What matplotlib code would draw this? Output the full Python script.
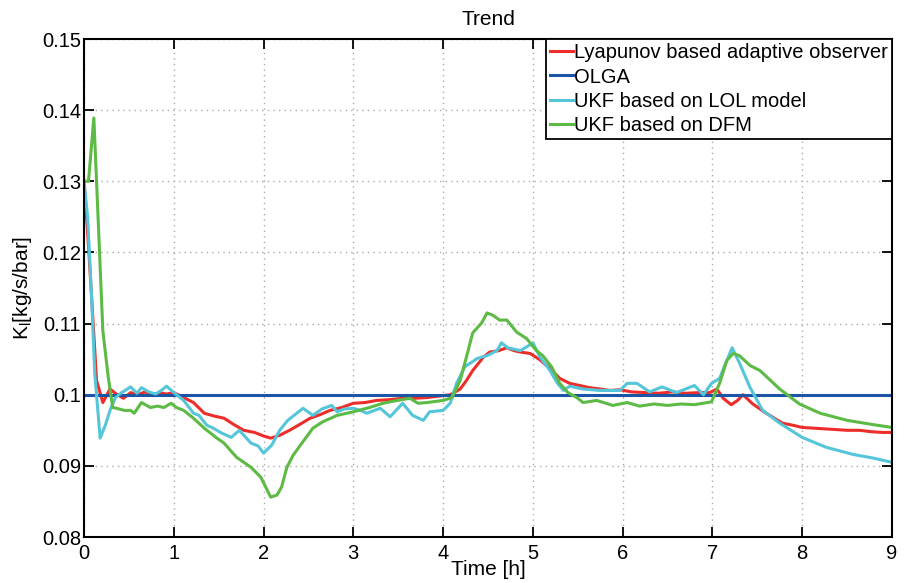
import numpy as np
import matplotlib
matplotlib.use("Agg")
import matplotlib.pyplot as plt

plt.rcParams['font.family'] = ['Liberation Sans', 'DejaVu Sans']
plt.rcParams['mathtext.fontset'] = 'custom'
plt.rcParams['mathtext.rm'] = 'Liberation Sans'
plt.rcParams['mathtext.it'] = 'Liberation Sans'

# Lyapunov based adaptive observer
t_lyap = [0.0, 0.05, 0.1, 0.14, 0.21, 0.29, 0.36, 0.44, 0.52, 0.6, 0.68, 0.76, 0.84, 0.92,
          1.0, 1.08, 1.22, 1.34, 1.45, 1.56, 1.67, 1.78, 1.9, 2.0, 2.08, 2.18, 2.29, 2.4,
          2.52, 2.63, 2.74, 2.87, 3.0, 3.13, 3.26, 3.4, 3.55, 3.68, 3.82, 3.95, 4.08, 4.19,
          4.26, 4.33, 4.45, 4.52, 4.62, 4.71, 4.79, 4.86, 4.97, 5.08, 5.19, 5.3, 5.41, 5.52,
          5.63, 5.75, 5.86, 5.97, 6.1, 6.25, 6.4, 6.55, 6.7, 6.85, 6.97, 7.05, 7.12, 7.21,
          7.28, 7.34, 7.45, 7.6, 7.78, 7.9, 8.0, 8.13, 8.25, 8.38, 8.5, 8.64, 8.77, 8.9, 9.0]
y_lyap = [0.1300, 0.1210, 0.1105, 0.1020, 0.0989, 0.1008, 0.1001, 0.0995, 0.1003, 0.1000,
          0.1004, 0.0999, 0.1003, 0.1001, 0.1003, 0.0998, 0.0989, 0.0974, 0.0970, 0.0967,
          0.0958, 0.0950, 0.0947, 0.0942, 0.0939, 0.0943, 0.0950, 0.0958, 0.0967, 0.0972,
          0.0978, 0.0982, 0.0988, 0.0989, 0.0992, 0.0993, 0.0995, 0.0995, 0.0996, 0.0998,
          0.1000, 0.1008, 0.1020, 0.1034, 0.1053, 0.1060, 0.1062, 0.1066, 0.1062, 0.1060,
          0.1058, 0.1049, 0.1037, 0.1023, 0.1016, 0.1013, 0.1010, 0.1008, 0.1006, 0.1007,
          0.1004, 0.1003, 0.1002, 0.1004, 0.1002, 0.1003, 0.1003, 0.1008, 0.0995, 0.0986,
          0.0992, 0.1000, 0.0987, 0.0974, 0.0960, 0.0957, 0.0954, 0.0953, 0.0952, 0.0951,
          0.0950, 0.0950, 0.0948, 0.0947, 0.0947]

# OLGA reference
t_olga = [0.0, 9.0]
y_olga = [0.1, 0.1]

# UKF based on LOL model
t_lol = [0.0, 0.04, 0.08, 0.12, 0.18, 0.24, 0.29, 0.35, 0.42, 0.52, 0.59, 0.64, 0.72, 0.8,
         0.86, 0.92, 1.02, 1.11, 1.22, 1.28, 1.37, 1.44, 1.52, 1.64, 1.73, 1.86, 1.94, 2.0,
         2.09, 2.18, 2.27, 2.37, 2.44, 2.55, 2.65, 2.76, 2.82, 2.9, 3.0, 3.08, 3.15, 3.3,
         3.41, 3.55, 3.66, 3.78, 3.85, 4.0, 4.08, 4.15, 4.24, 4.38, 4.49, 4.6, 4.65, 4.72,
         4.86, 4.94, 5.0, 5.08, 5.19, 5.27, 5.34, 5.41, 5.56, 5.75, 5.97, 6.05, 6.16, 6.3,
         6.44, 6.6, 6.8, 6.9, 6.99, 7.08, 7.15, 7.22, 7.3, 7.42, 7.56, 7.75, 8.0, 8.27,
         8.57, 8.79, 9.0]
y_lol = [0.1302, 0.1250, 0.1150, 0.1030, 0.0939, 0.0958, 0.0978, 0.0996, 0.1003, 0.1011,
         0.1002, 0.1010, 0.1004, 0.1001, 0.1006, 0.1012, 0.1001, 0.0992, 0.0974, 0.0971,
         0.0957, 0.0953, 0.0947, 0.0940, 0.0950, 0.0932, 0.0928, 0.0918, 0.0929, 0.0950,
         0.0964, 0.0974, 0.0981, 0.0971, 0.0980, 0.0985, 0.0976, 0.0980, 0.0981, 0.0978,
         0.0974, 0.0981, 0.0969, 0.0988, 0.0971, 0.0964, 0.0976, 0.0978, 0.0988, 0.1016,
         0.1039, 0.1051, 0.1055, 0.1062, 0.1073, 0.1066, 0.1062, 0.1068, 0.1073, 0.1053,
         0.1034, 0.1017, 0.1006, 0.1012, 0.1008, 0.1006, 0.1006, 0.1016, 0.1016, 0.1004,
         0.1011, 0.1003, 0.1013, 0.1000, 0.1016, 0.1023, 0.1045, 0.1066, 0.1045, 0.1010,
         0.0978, 0.0960, 0.0940, 0.0926, 0.0916, 0.0911, 0.0905]

# UKF based on DFM
t_dfm = [0.0, 0.05, 0.11, 0.16, 0.21, 0.27, 0.32, 0.36, 0.45, 0.52, 0.56, 0.64, 0.74, 0.82,
         0.89, 0.97, 1.03, 1.11, 1.22, 1.34, 1.48, 1.56, 1.7, 1.86, 1.97, 2.08, 2.15, 2.2,
         2.26, 2.33, 2.41, 2.55, 2.66, 2.82, 3.0, 3.18, 3.33, 3.49, 3.63, 3.72, 3.82, 4.0,
         4.1, 4.19, 4.26, 4.33, 4.43, 4.49, 4.55, 4.63, 4.71, 4.82, 4.93, 5.04, 5.11, 5.21,
         5.3, 5.39, 5.49, 5.56, 5.71, 5.89, 6.05, 6.19, 6.35, 6.5, 6.65, 6.8, 6.99, 7.08,
         7.16, 7.23, 7.3, 7.42, 7.53, 7.75, 7.97, 8.2, 8.5, 8.79, 9.0]
y_dfm = [0.1300, 0.1300, 0.1389, 0.1240, 0.1090, 0.1025, 0.0982, 0.0981, 0.0978, 0.0978,
         0.0974, 0.0989, 0.0982, 0.0984, 0.0982, 0.0988, 0.0982, 0.0978, 0.0967, 0.0953,
         0.0939, 0.0932, 0.0912, 0.0898, 0.0884, 0.0856, 0.0859, 0.0870, 0.0898, 0.0915,
         0.0929, 0.0953, 0.0962, 0.0971, 0.0976, 0.0982, 0.0988, 0.0992, 0.0995, 0.0988,
         0.0989, 0.0992, 0.0996, 0.1020, 0.1053, 0.1087, 0.1101, 0.1115, 0.1112, 0.1105,
         0.1105, 0.1088, 0.1079, 0.1062, 0.1055, 0.1039, 0.1016, 0.1003, 0.0996, 0.0989,
         0.0992, 0.0985, 0.0989, 0.0984, 0.0987, 0.0985, 0.0987, 0.0986, 0.0990, 0.1016,
         0.1048, 0.1058, 0.1055, 0.1041, 0.1034, 0.1008, 0.0987, 0.0974, 0.0964, 0.0958,
         0.0954]

series = [
    (t_lyap, y_lyap, '#ec2d2a', 'Lyapunov based adaptive observer'),
    (t_olga, y_olga, '#1c55a6', 'OLGA'),
    (t_lol, y_lol, '#55c5d9', 'UKF based on LOL model'),
    (t_dfm, y_dfm, '#5cba45', 'UKF based on DFM'),
]

fig = plt.figure(figsize=(9.06, 5.83), dpi=100)
ax = fig.add_axes([0.0927, 0.0789, 0.8918, 0.8541])

for t, y, c, lab in series:
    ax.plot(t, y, color=c, lw=2.2, label=lab)

ax.set_xlim(0, 9)
ax.set_ylim(0.08, 0.15)
ax.set_xticks(np.arange(0, 10, 1))
ax.set_yticks([0.08, 0.09, 0.1, 0.11, 0.12, 0.13, 0.14, 0.15])
ax.set_yticklabels(['0.08', '0.09', '0.1', '0.11', '0.12', '0.13', '0.14', '0.15'])
ax.grid(True, linestyle=(0, (1, 3)), color='#aaaaaa', lw=1.0)
ax.tick_params(direction='in', top=True, right=True, labelsize=14.5, length=7, width=1.3)
ax.tick_params(axis='x', pad=5)
ax.tick_params(axis='y', pad=2)
for s in ax.spines.values():
    s.set_linewidth(1.5)

ax.set_title('Trend', fontsize=15, pad=10)
ax.set_xlabel('Time [h]', fontsize=15, labelpad=-2)
ax.set_ylabel('K$_l$[kg/s/bar]', fontsize=15, labelpad=6)

leg = ax.legend(loc='upper right', fontsize=14.5, frameon=True, fancybox=False,
                borderaxespad=0.0, handlelength=1.15, handletextpad=0.05,
                labelspacing=0.27, borderpad=0.2, framealpha=1.0)
leg.get_frame().set_edgecolor('black')
leg.get_frame().set_linewidth(1.3)

fig.savefig('out.png', dpi=100)
